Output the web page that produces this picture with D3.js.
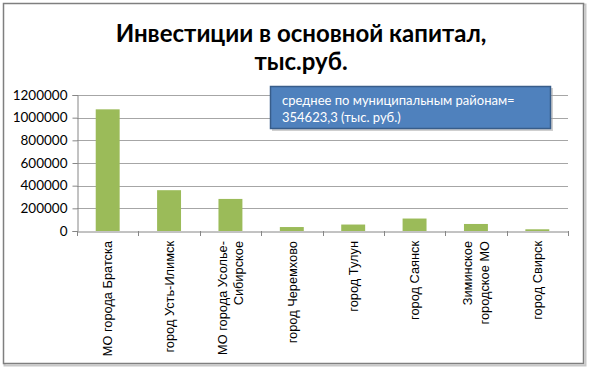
<!DOCTYPE html>
<html><head><meta charset="utf-8">
<script src="https://cdn.jsdelivr.net/npm/d3@7"></script>
<style>body{margin:0;background:#fff}svg{display:block}</style>
</head><body>
<svg id="c" width="590" height="370"></svg>
<script>
const categories = [
  ["МО города Братска"],
  ["город Усть-Илимск"],
  ["МО города Усолье-", "Сибирское"],
  ["город Черемхово"],
  ["город Тулун"],
  ["город Саянск"],
  ["Зиминское", "городское МО"],
  ["город Свирск"]
];
const values = [1073500, 360000, 283000, 35000, 57000, 110000, 62000, 15000];
const yTicks = [0, 200000, 400000, 600000, 800000, 1000000, 1200000];
const titleLines = ["Инвестиции в основной капитал,", "тыс.руб."];
const noteLines = ["среднее по муниципальным районам=", "354623,3  (тыс. руб.)"];

const svg = d3.select("#c");
const L = 77, R = 568, T = 95, B = 231;

// outer border
svg.append("rect").attr("x", 4.5).attr("y", 4.5).attr("width", 581).attr("height", 361)
  .attr("fill", "none").attr("stroke", "#c8c8c8").attr("stroke-width", 2);
svg.append("rect").attr("x", 3.5).attr("y", 3.5).attr("width", 580).attr("height", 360)
  .attr("fill", "#fff").attr("stroke", "#7f7f7f").attr("stroke-width", 1.5);

const x = d3.scaleBand().domain(d3.range(categories.length)).range([L, R]).paddingInner(0.61).paddingOuter(0.305);
const xb = d3.scaleBand().domain(d3.range(categories.length)).range([L, R]);
const y = d3.scaleLinear().domain([0, 1200000]).range([B, T]);

// gridlines
svg.append("g").selectAll("line").data(yTicks.filter(d => d > 0)).join("line")
  .attr("x1", L).attr("x2", R).attr("y1", d => Math.round(y(d)) + 0.5).attr("y2", d => Math.round(y(d)) + 0.5)
  .attr("stroke", "#a6a6a6").attr("stroke-width", 1);

// y axis
const ya = svg.append("g").attr("transform", `translate(${L + 0.5},0)`)
  .call(d3.axisLeft(y).tickValues(yTicks).tickSize(5).tickPadding(5).tickFormat(d3.format("d")));
ya.select(".domain").attr("stroke", "#868686");
ya.selectAll(".tick line").attr("stroke", "#868686");
ya.selectAll("text").attr("font-family", "Lato, 'Open Sans', sans-serif").attr("font-size", 13.5).attr("fill", "#000");

// bars
svg.append("g").selectAll("rect").data(values).join("rect")
  .attr("x", (d, i) => x(i)).attr("width", x.bandwidth())
  .attr("y", d => y(d)).attr("height", d => B - y(d))
  .attr("fill", "#9bbb59");

// x axis
const xa = svg.append("g").attr("transform", `translate(0,${Math.round(B) + 0.5})`)
  .call(d3.axisBottom(xb).tickSize(0).tickFormat(""));
xa.select(".domain").attr("stroke", "#868686");
svg.append("g").selectAll("line").data(d3.range(categories.length + 1)).join("line")
  .attr("x1", i => Math.round(L + i * xb.step()) + 0.5).attr("x2", i => Math.round(L + i * xb.step()) + 0.5)
  .attr("y1", B).attr("y2", B + 5).attr("stroke", "#868686");

// category labels
const lab = svg.append("g").selectAll("text").data(categories).join("text")
  .attr("transform", (d, i) => `translate(${xb(i) + xb.bandwidth() / 2},${B + 10}) rotate(-90)`)
  .attr("text-anchor", "end").attr("font-family", "'Liberation Sans', Arial, sans-serif")
  .attr("font-size", 12.8).attr("fill", "#000");
lab.each(function (d) {
  const n = d.length;
  d3.select(this).selectAll("tspan").data(d).join("tspan")
    .attr("x", 0).attr("y", (t, j) => (j - (n - 1) / 2) * 16.5 + 4.7).text(t => t);
});

// title
svg.append("g").selectAll("text").data(titleLines).join("text")
  .attr("x", 301).attr("y", (d, i) => 42 + i * 28)
  .attr("text-anchor", "middle").attr("font-family", "Lato, 'Open Sans', sans-serif")
  .attr("font-weight", "bold").attr("font-size", 24).attr("fill", "#000").text(d => d);

// annotation box
svg.append("rect").attr("x", 272).attr("y", 88).attr("width", 281).attr("height", 43)
  .attr("fill", "#a0a0a0").attr("opacity", 0.5);
svg.append("rect").attr("x", 270.5).attr("y", 86.5).attr("width", 280).attr("height", 42)
  .attr("fill", "#4f81bd").attr("stroke", "#385d8a").attr("stroke-width", 1.5);
svg.append("g").selectAll("text").data(noteLines).join("text")
  .attr("x", 282).attr("y", (d, i) => 105 + i * 17)
  .attr("font-family", "Lato, 'Open Sans', sans-serif").attr("font-size", 13)
  .attr("fill", "#fff").text(d => d);
</script>
</body></html>
